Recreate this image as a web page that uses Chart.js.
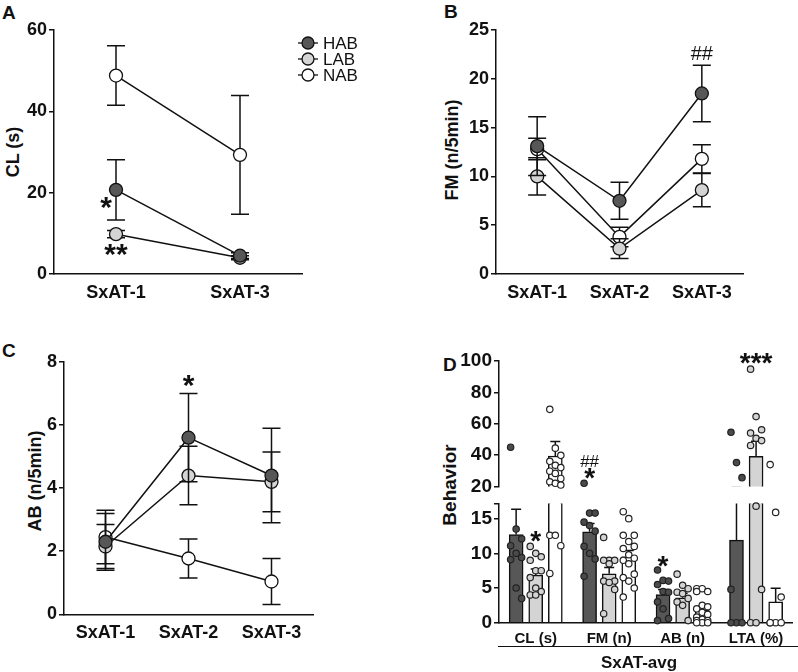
<!DOCTYPE html>
<html>
<head>
<meta charset="utf-8">
<script src="https://cdn.jsdelivr.net/npm/chart.js@4.4.1/dist/chart.umd.min.js"></script>
<style>
body { margin: 0; background: #fff; width: 798px; height: 672px; position: relative; overflow: hidden; font-family: "Liberation Sans", Arial, sans-serif; }
canvas { position: absolute; }
.lbl { position: absolute; font-weight: bold; color: #111; white-space: nowrap; line-height: 1; }
.rot { transform: translate(-50%, -50%) rotate(-90deg); }
</style>
</head>
<body>
<div class="lbl" style="left:2px;top:3px;font-size:19px">A</div>
<div class="lbl" style="left:444px;top:2px;font-size:19px">B</div>
<div class="lbl" style="left:2px;top:341px;font-size:19px">C</div>
<div class="lbl" style="left:443px;top:355px;font-size:19px">D</div>

<div class="lbl rot" style="left:13px;top:152px;font-size:18px">CL (s)</div>
<div class="lbl rot" style="left:452px;top:150px;font-size:18px">FM (n/5min)</div>
<div class="lbl rot" style="left:35px;top:481px;font-size:18px">AB (n/5min)</div>
<div class="lbl rot" style="left:449px;top:485px;font-size:19px">Behavior</div>

<canvas id="chartA" width="400" height="310" style="left:0;top:0"></canvas>
<canvas id="chartB" width="398" height="310" style="left:400px;top:0"></canvas>
<canvas id="chartC" width="400" height="362" style="left:0;top:310px"></canvas>
<canvas id="chartDTop" width="398" height="180" style="left:400px;top:320px"></canvas>
<canvas id="chartDBot" width="398" height="182" style="left:400px;top:490px"></canvas>

<div style="position:absolute;left:498px;top:646px;width:300px;border-top:1.5px solid #111"></div>
<div class="lbl" style="left:639px;top:662px;font-size:17px;transform:translate(-50%,-50%)">SxAT-avg</div>

<script>
// ---------- data ----------
const groupNames = ['HAB', 'LAB', 'NAB'];
const groupColors = ['#575757', '#d4d4d4', '#ffffff'];

// Panel A: CL (s)
const aLabels = ['SxAT-1', 'SxAT-3'];
const aHab = [20.7, 4.5];
const aHabErr = [7.4, 0.7];
const aLab = [9.8, 4.0];
const aLabErr = [0.9, 0.5];
const aNab = [48.8, 29.3];
const aNabErr = [7.3, 14.6];

// Panel B: FM (n/5min)
const bLabels = ['SxAT-1', 'SxAT-2', 'SxAT-3'];
const bHab = [13.1, 7.5, 18.5];
const bHabErr = [3.0, 1.9, 2.9];
const bLab = [10.0, 2.6, 8.6];
const bLabErr = [1.9, 1.0, 1.7];
const bNab = [12.8, 3.8, 11.8];
const bNabErr = [1.1, 1.0, 1.45];

// Panel C: AB (n/5min)
const cLabels = ['SxAT-1', 'SxAT-2', 'SxAT-3'];
const cHab = [2.3, 5.6, 4.4];
const cHabErr = [0.9, 1.4, 1.5];
const cLab = [2.15, 4.4, 4.2];
const cLabErr = [0.7, 0.93, 0.95];
const cNab = [2.45, 1.77, 1.04];
const cNabErr = [0.85, 0.62, 0.73];

// Panel D: SxAT-avg bars (mean, upper SEM) and individual animals
const dLabels = ['CL (s)', 'FM (n)', 'AB (n)', 'LTA (%)'];
const dTopTicks = [20, 40, 60, 80, 100];
const dBottomTicks = [0, 5, 10, 15];
const dHab = [12.7, 13.1, 4.05, 11.9];
const dHabErr = [3.65, 1.2, 0.75, 7.5];
const dLab = [6.85, 7.05, 3.6, 39.3];
const dLabErr = [0.9, 0.9, 0.65, 9.6];
const dNab = [39.5, 9.5, 1.8, 3.0];
const dNabErr = [9.2, 0.9, 0.45, 1.95];

const dotsHab = [
  [45.1, 13.5, 12.1, 11.1, 10.0, 9.4, 9.1, 5.0, 3.5],
  [22.1, 15.8, 15.8, 14.5, 14.0, 13.2, 11.0, 10.0, 9.2, 6.7],
  [7.6, 6.1, 6.0, 5.5, 4.5, 4.4, 3.0, 2.0, 0.6, 0.3],
  [54.6, 35.3, 25.7, 4.8, 0, 0, 0]
];
const dotsLab = [
  [11.0, 10.0, 9.5, 9.0, 7.5, 7.5, 6.5, 5.0, 4.5, 4.0, 4.0],
  [12.3, 9.0, 9.0, 9.0, 8.5, 6.0, 6.0, 5.8, 4.8, 1.3],
  [7.0, 5.4, 4.9, 4.4, 4.2, 3.5, 3.0, 2.5, 0.3],
  [94.8, 64.6, 56.2, 54.1, 50.8, 49.3, 46.2, 16.8, 4.8, 0, 0]
];
const dotsNab = [
  [69.2, 44.5, 39.9, 36.1, 33.6, 32.1, 29.8, 28.4, 25.2, 23.1, 22.1, 21.0, 12.6, 12.6, 11.1, 7.1],
  [16.0, 15.0, 12.6, 12.6, 11.7, 11.0, 10.7, 9.8, 9.3, 9.0, 8.5, 7.0, 6.5, 6.0, 5.0, 3.7],
  [4.9, 4.9, 4.5, 4.5, 2.5, 2.3, 2.0, 1.5, 1.2, 0.8, 0.5, 0.3, 0.3, 0, 0, 0],
  [34.0, 15.9, 3.7, 0, 0, 0, 0]
];

// ---------- shared style ----------
const FONT = 'Liberation Sans';
const INK = '#111';

// error bars, drawn per dataset (before for lines, after for bars)
function drawErrors(chart, index, opts) {
  const ds = chart.data.datasets[index];
  if (!ds.err) return;
  const meta = chart.getDatasetMeta(index);
  const yScale = chart.scales[meta.yAxisID];
  const ctx = chart.ctx;
  const area = chart.chartArea;
  ctx.save();
  if (opts.clip) {
    ctx.beginPath();
    ctx.rect(area.left, area.top, area.right - area.left, area.bottom - area.top);
    ctx.clip();
  }
  ctx.strokeStyle = INK;
  ctx.lineWidth = 1.5;
  meta.data.forEach((el, k) => {
    const raw = ds.data[k];
    const v = typeof raw === 'object' ? raw.y : raw;
    const e = ds.err[k];
    const x = el.x;
    const top = yScale.getPixelForValue(v + e);
    const bot = yScale.getPixelForValue(opts.upOnly ? v : v - e);
    ctx.beginPath();
    ctx.moveTo(x, bot);
    ctx.lineTo(x, top);
    ctx.moveTo(x - opts.cap, top);
    ctx.lineTo(x + opts.cap, top);
    if (!opts.upOnly) {
      ctx.moveTo(x - opts.cap, bot);
      ctx.lineTo(x + opts.cap, bot);
    }
    ctx.stroke();
  });
  ctx.restore();
}

const errBarPlugin = {
  id: 'errbars',
  beforeDatasetDraw(chart, args, opts) { if (!opts.after) drawErrors(chart, args.index, opts); },
  afterDatasetDraw(chart, args, opts) { if (opts.after) drawErrors(chart, args.index, opts); }
};

// significance marks
const notesPlugin = {
  id: 'notes',
  afterDraw(chart, args, opts) {
    const ctx = chart.ctx;
    (opts.items || []).forEach(n => {
      const xs = chart.scales[n.xAxis || 'x'];
      const x = xs.getPixelForValue(n.x) + (n.dx || 0);
      const y = chart.scales.y.getPixelForValue(n.y);
      ctx.save();
      ctx.font = n.font;
      ctx.fillStyle = INK;
      ctx.textAlign = 'center';
      ctx.textBaseline = 'middle';
      ctx.fillText(n.text, x, y);
      ctx.restore();
    });
  }
};

// legend with line-through markers
const dotLegendPlugin = {
  id: 'dotLegend',
  afterDraw(chart, args, opts) {
    if (!opts.show) return;
    const ctx = chart.ctx;
    chart.data.datasets.forEach((ds, i) => {
      const y = opts.y + i * opts.row;
      ctx.save();
      ctx.strokeStyle = INK;
      ctx.lineWidth = 1.3;
      ctx.beginPath();
      ctx.moveTo(opts.x - 10, y);
      ctx.lineTo(opts.x + 10, y);
      ctx.stroke();
      ctx.beginPath();
      ctx.arc(opts.x, y, 6, 0, Math.PI * 2);
      ctx.fillStyle = ds.pointBackgroundColor;
      ctx.fill();
      ctx.stroke();
      ctx.fillStyle = INK;
      ctx.font = '17px ' + FONT;
      ctx.textAlign = 'left';
      ctx.textBaseline = 'middle';
      ctx.fillText(ds.label, opts.x + 15, y + 1);
      ctx.restore();
    });
  }
};

Chart.register(errBarPlugin, notesPlugin, dotLegendPlugin);

function lineSet(label, values, errs, color) {
  return {
    label: label,
    data: values,
    err: errs,
    borderColor: INK,
    borderWidth: 1.5,
    pointRadius: 6.5,
    pointBorderWidth: 1.3,
    pointBorderColor: INK,
    pointBackgroundColor: color,
    clip: false
  };
}

function makeLine(id, cfg) {
  return new Chart(document.getElementById(id), {
    type: 'line',
    data: {
      labels: cfg.labels,
      datasets: cfg.series.map((s, i) => lineSet(groupNames[i], s[0], s[1], groupColors[i]))
    },
    options: {
      responsive: false,
      animation: false,
      layout: { padding: { top: cfg.top, right: cfg.right, left: 0, bottom: 0 } },
      plugins: {
        legend: { display: false },
        tooltip: { enabled: false },
        errbars: { cap: 9, upOnly: false, after: false },
        notes: { items: cfg.notes || [] },
        dotLegend: cfg.legend || { show: false }
      },
      scales: {
        x: {
          offset: true,
          grid: { display: false, drawTicks: false },
          border: { color: INK, width: 1.5 },
          ticks: { color: INK, padding: 8, font: { family: FONT, size: 18, weight: 'bold' } },
          afterFit: s => { s.height = cfg.xh; }
        },
        y: {
          min: 0,
          max: cfg.max,
          ticks: { stepSize: cfg.step, color: INK, padding: 2, font: { family: FONT, size: 18, weight: 'bold' } },
          grid: { drawOnChartArea: false, drawTicks: true, tickLength: 5, color: INK, lineWidth: 1.5 },
          border: { color: INK, width: 1.5 },
          afterFit: s => { s.width = cfg.yw; }
        }
      }
    }
  });
}

const starFont = 'bold 30px ' + FONT;

makeLine('chartA', {
  labels: aLabels,
  series: [[aHab, aHabErr], [aLab, aLabErr], [aNab, aNabErr]],
  max: 60, step: 20, top: 30, right: 98, xh: 36, yw: 54,
  legend: { show: true, x: 308, y: 43, row: 16 },
  notes: [
    { text: '*', x: 0, dx: -10, y: 16.0, font: starFont },
    { text: '**', x: 0, dx: 0, y: 4.6, font: starFont }
  ]
});

makeLine('chartB', {
  labels: bLabels,
  series: [[bHab, bHabErr], [bLab, bLabErr], [bNab, bNabErr]],
  max: 25, step: 5, top: 30, right: 55, xh: 36, yw: 96,
  notes: [
    { text: '##', x: 2, dx: 0, y: 22.5, font: '20px ' + FONT }
  ]
});

makeLine('chartC', {
  labels: cLabels,
  series: [[cHab, cHabErr], [cLab, cLabErr], [cNab, cNabErr]],
  max: 8, step: 2, top: 52, right: 87, xh: 57.7, yw: 64,
  notes: [
    { text: '*', x: 1, dx: 0, y: 7.2, font: starFont }
  ]
});

// ---------- panel D: broken y axis as two stacked charts ----------
// bars and dots share a linear x axis (xs) lined up with the category labels
const SLOT = 0.8 / 3;
const BOTTOM_MAX = 17.2;
const TOP_MIN = 20;

function dotPoints(lists, g, keep) {
  const pts = [];
  lists.forEach((vals, c) => {
    vals.forEach((v, k) => {
      const p = { x: c + (g - 1) * SLOT + ((k % 3) - 1) * 0.075, y: v };
      if (keep(v)) pts.push(p);
    });
  });
  return pts;
}

function barPoints(vals, g) {
  return vals.map((v, c) => ({ x: c + (g - 1) * SLOT, y: v }));
}

function makeBars(id, cfg) {
  const dots = [dotsHab, dotsLab, dotsNab];
  const bars = [[dHab, dHabErr], [dLab, dLabErr], [dNab, dNabErr]];
  const datasets = [];
  dots.forEach((lists, g) => {
    datasets.push({
      type: 'scatter',
      label: groupNames[g] + ' animals',
      data: dotPoints(lists, g, cfg.keep),
      xAxisID: 'xs',
      order: 0,
      pointRadius: 3.2,
      pointBorderWidth: 1.2,
      pointBorderColor: '#222',
      pointBackgroundColor: g === 0 ? '#4a4a4a' : groupColors[g],
      clip: false
    });
  });
  bars.forEach((b, g) => {
    datasets.push({
      type: 'bar',
      label: groupNames[g],
      data: barPoints(b[0], g),
      err: b[1],
      xAxisID: 'xs',
      order: 1,
      grouped: false,
      barThickness: 14,
      backgroundColor: groupColors[g],
      borderColor: INK,
      borderWidth: 1.5
    });
  });
  return new Chart(document.getElementById(id), {
    type: 'bar',
    data: { labels: dLabels, datasets: datasets },
    options: {
      responsive: false,
      animation: false,
      layout: { padding: { top: cfg.top, right: 1, left: 0, bottom: cfg.bottom } },
      plugins: {
        legend: { display: false },
        tooltip: { enabled: false },
        errbars: { cap: 5, upOnly: true, after: true, clip: true },
        notes: { items: cfg.notes }
      },
      scales: {
        x: {
          display: cfg.showX,
          offset: true,
          grid: { display: false, drawTicks: false },
          border: { color: INK, width: 1.5 },
          ticks: { color: INK, padding: 7.5, font: { family: FONT, size: 15, weight: 'bold' } },
          afterFit: s => { s.height = cfg.xh; }
        },
        xs: {
          type: 'linear',
          display: false,
          offset: false,
          bounds: 'data',
          min: -0.5,
          max: 3.5,
          ticks: { stepSize: 1 }
        },
        y: {
          min: cfg.min,
          max: cfg.max,
          afterBuildTicks: s => { s.ticks = cfg.ticks.map(v => ({ value: v })); },
          ticks: {
            autoSkip: false,
            color: INK,
            padding: 2,
            font: { family: FONT, size: 19, weight: 'bold' },
            callback: v => (cfg.labelled.includes(v) ? v : '')
          },
          grid: { drawOnChartArea: false, drawTicks: true, tickLength: 5, color: INK, lineWidth: 1.5 },
          border: { color: INK, width: 1.5 },
          afterFit: s => { s.width = 99; }
        }
      }
    }
  });
}

makeBars('chartDTop', {
  min: TOP_MIN, max: 100, top: 41, bottom: 11.7, showX: false, xh: 0,
  ticks: dTopTicks, labelled: dTopTicks,
  keep: v => v >= TOP_MIN,
  notes: [
    { text: '##', xAxis: 'xs', x: 1 - SLOT, y: 35.7, font: '17px ' + FONT },
    { text: '*', xAxis: 'xs', x: 1 - SLOT, y: 24.6, font: 'bold 28px ' + FONT },
    { text: '***', xAxis: 'xs', x: 3, y: 98, font: 'bold 28px ' + FONT }
  ]
});

makeBars('chartDBot', {
  min: 0, max: BOTTOM_MAX, top: 5, bottom: 0, showX: true, xh: 49.3,
  ticks: dBottomTicks.concat([BOTTOM_MAX]), labelled: dBottomTicks,
  keep: v => v <= BOTTOM_MAX,
  notes: [
    { text: '*', xAxis: 'xs', x: 0, y: 11.6, font: 'bold 28px ' + FONT },
    { text: '*', xAxis: 'xs', x: 2 - SLOT, y: 8.0, font: 'bold 28px ' + FONT }
  ]
});
</script>
</body>
</html>
